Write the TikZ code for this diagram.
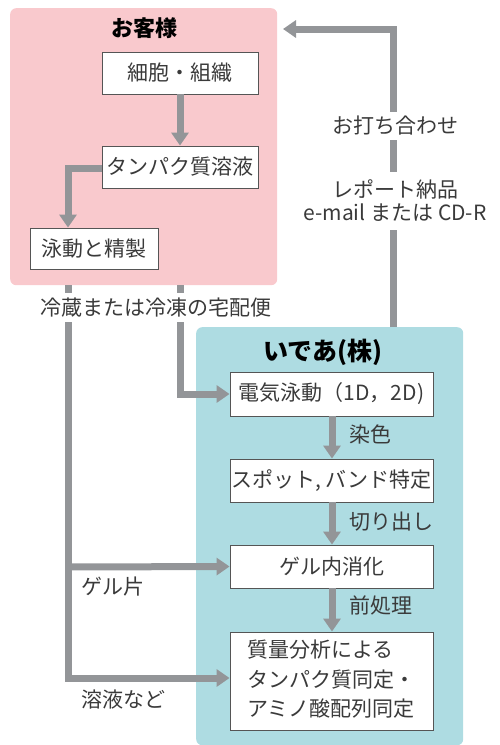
\documentclass[tikz,border=0pt]{standalone}
\usepackage{fontspec}
\setmainfont{Noto Sans CJK JP}
\usetikzlibrary{arrows.meta,calc}
\definecolor{pinkbg}{HTML}{F9C9CD}
\definecolor{bluebg}{HTML}{AEDCE2}
\definecolor{arrgray}{HTML}{939598}
\definecolor{txt}{HTML}{3A3A3A}
\definecolor{boxline}{HTML}{555555}
\tikzset{
  panel/.style={fill=#1, draw=none, rounded corners=6pt},
  stepbox/.style={draw=boxline, line width=0.9pt, fill=white, inner sep=0pt, text=txt, font=\fontsize{21}{29.5}\selectfont},
  lbl/.style={inner sep=0pt, text=txt, font=\fontsize{21}{24}\selectfont},
  gaplbl/.style={inner xsep=2pt, inner ysep=0pt, text=txt, font=\fontsize{21}{23}\selectfont, align=center},
  ttl/.style={inner sep=0pt, text=black, font=\fontsize{#1}{26}\selectfont\bfseries},
  flow/.style={draw=arrgray, line width=7pt, line join=miter, -{Triangle[width=17pt,length=13pt]}},
  flowplain/.style={draw=arrgray, line width=7pt, line join=miter}
}
\begin{document}
\begin{tikzpicture}[x=1pt,y=-1pt]
\useasboundingbox (0,0) rectangle (499,745);
% panels
\node[panel=pinkbg, minimum width=267pt, minimum height=277pt, anchor=north west] (pink) at (10,8) {};
\node[panel=bluebg, minimum width=267pt, minimum height=418pt, anchor=north west] (blue) at (196,327) {};
\node[ttl=22] (t1) at (144,28) {お客様};
\node[ttl=25] (t2) at (323,352) {いであ(株)};
% customer boxes
\node[stepbox, minimum width=156pt, minimum height=42pt] (b1) at (180,73) {細胞・組織};
\node[stepbox, minimum width=156pt, minimum height=42pt] (b2) at (180,167) {タンパク質溶液};
\node[stepbox, minimum width=128pt, minimum height=41pt] (b3) at (94,248.5) {泳動と精製};
% idea boxes
\node[stepbox, minimum width=203pt, minimum height=44pt] (c1) at (331.5,394) {電気泳動（1D，2D)};
\node[stepbox, minimum width=203pt, minimum height=43pt] (c2) at (331.5,480.5) {スポット, バンド特定};
\node[stepbox, minimum width=203pt, minimum height=43pt] (c3) at (331.5,566.5) {ゲル内消化};
\node[stepbox, minimum width=203pt, minimum height=98pt] (c4) at (331.5,681) {};
\node[lbl, anchor=north west, align=left, font=\fontsize{21}{29.5}\selectfont] (c4t) at (247,640) {質量分析による\\タンパク質同定・\\アミノ酸配列同定};
% arrows in pink panel
\draw[flow] (b1.south) -- (b2.north);
\coordinate (e1) at (68,168);
\draw[flow] (b2.west |- e1) -- (e1) -- (e1 |- b3.north);
% arrows in blue panel
\draw[flow] (c1.south -| 332,0) -- (c2.north -| 332,0);
\draw[flow] (c2.south -| 332,0) -- (c3.north -| 332,0);
\draw[flow] (c3.south -| 332,0) -- (c4.north -| 332,0);
\node[lbl, anchor=west] (l1) at (349,434) {染色};
\node[lbl, anchor=west] (l2) at (349,522) {切り出し};
\node[lbl, anchor=west] (l3) at (349,605) {前処理};
% shipping lines
\node[gaplbl, minimum height=29pt] (ship) at (156,307.5) {冷蔵または冷凍の宅配便};
\coordinate (s1) at (68,285);
\coordinate (s2) at (180,285);
\coordinate (k1) at (68,678);
\coordinate (k2) at (180,394);
\coordinate (k3) at (68,567);
\draw[flowplain] (s1) -- (s1 |- ship.north);
\draw[flowplain] (s2) -- (s2 |- ship.north);
\draw[flow] (s2 |- ship.south) -- (k2) -- (c1.west);
\draw[flow] (s1 |- ship.south) -- (k1) -- (c4.west |- k1);
\draw[flow] (k3) -- (c3.west);
\node[lbl, anchor=west] (g1) at (81,587) {ゲル片};
\node[lbl, anchor=west] (g2) at (81,700) {溶液など};
% return arrow
\node[gaplbl, minimum height=28pt] (m1) at (395,126) {お打ち合わせ};
\node[gaplbl, minimum height=58pt] (m2) at (395,201) {レポート納品\\e-mail または CD-R};
\coordinate (r1) at (393,327);
\coordinate (r2) at (393,29);
\coordinate (r3) at (283,29);
\draw[flowplain] (r1) -- (r1 |- m2.south);
\draw[flowplain] (r1 |- m2.north) -- (r1 |- m1.south);
\draw[flow] (r1 |- m1.north) -- (r2) -- (r3);
\end{tikzpicture}
\end{document}
